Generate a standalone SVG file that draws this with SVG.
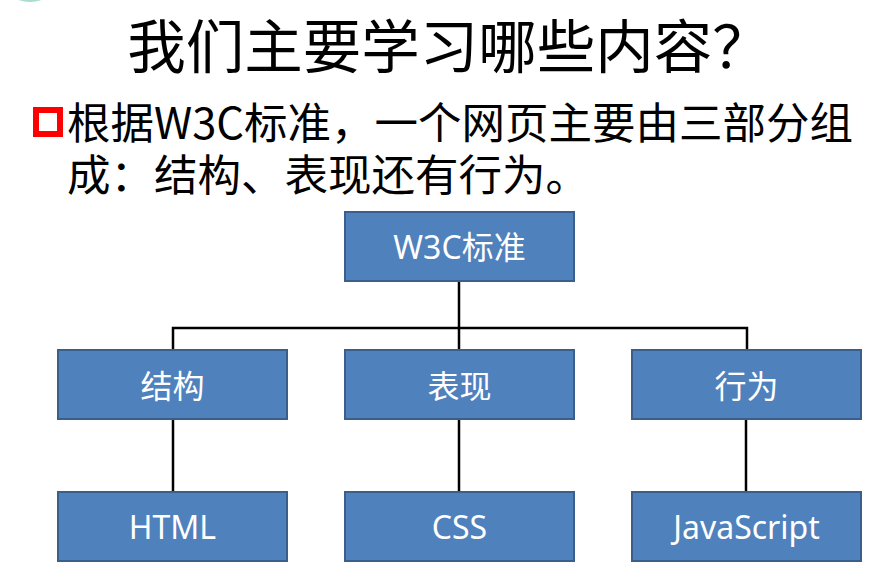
<svg xmlns="http://www.w3.org/2000/svg" width="884" height="579" viewBox="0 0 884 579">
<style>
.box{fill:#4F81BD;stroke:#3A5F8C;stroke-width:2}
.lbl{font-family:"Noto Sans","Noto Sans CJK SC",sans-serif;font-size:32px;fill:#FFFFFF;text-anchor:middle}
.conn{fill:none;stroke:#000000;stroke-width:2.5}
.t{font-family:"Noto Sans CJK SC",sans-serif;fill:#000000}
</style>
<rect width="884" height="579" fill="#FFFFFF"/>
<ellipse cx="30" cy="-3" rx="14" ry="5" fill="#A8DCD0"/>
<text class="t" x="449" y="68" font-size="58.5" text-anchor="middle">我们主要学习哪些内容？</text>
<rect x="36" y="110" width="24" height="24" fill="#FFFFFF" stroke="#FF0000" stroke-width="6"/>
<text class="t" font-size="43.5"><tspan x="67" y="139">根据W3C标准，一个网页主要由三部分组</tspan><tspan x="67" y="191">成：结构、表现还有行为。</tspan></text>
<g id="connectors">
<path class="conn" d="M459,281 V350"/>
<path class="conn" d="M173,350 V328 H747 V350"/>
<path class="conn" d="M173,419 V492"/>
<path class="conn" d="M459,420 V492"/>
<path class="conn" d="M746,419 V492"/>
</g>
<g id="w3c"><rect class="box" x="345" y="212" width="229" height="69"/><text class="lbl" x="459.5" y="259">W3C标准</text></g>
<g id="structure"><rect class="box" x="58" y="350" width="229" height="69"/><text class="lbl" x="172.5" y="398">结构</text></g>
<g id="presentation"><rect class="box" x="345" y="350" width="229" height="69"/><text class="lbl" x="459.5" y="398">表现</text></g>
<g id="behavior"><rect class="box" x="632" y="350" width="229" height="69"/><text class="lbl" x="746.5" y="398">行为</text></g>
<g id="html"><rect class="box" x="58" y="492" width="229" height="69"/><text class="lbl" x="172.5" y="539">HTML</text></g>
<g id="css"><rect class="box" x="345" y="492" width="229" height="69"/><text class="lbl" x="459.5" y="539">CSS</text></g>
<g id="js"><rect class="box" x="632" y="492" width="229" height="69"/><text class="lbl" x="746.5" y="539">JavaScript</text></g>
</svg>
